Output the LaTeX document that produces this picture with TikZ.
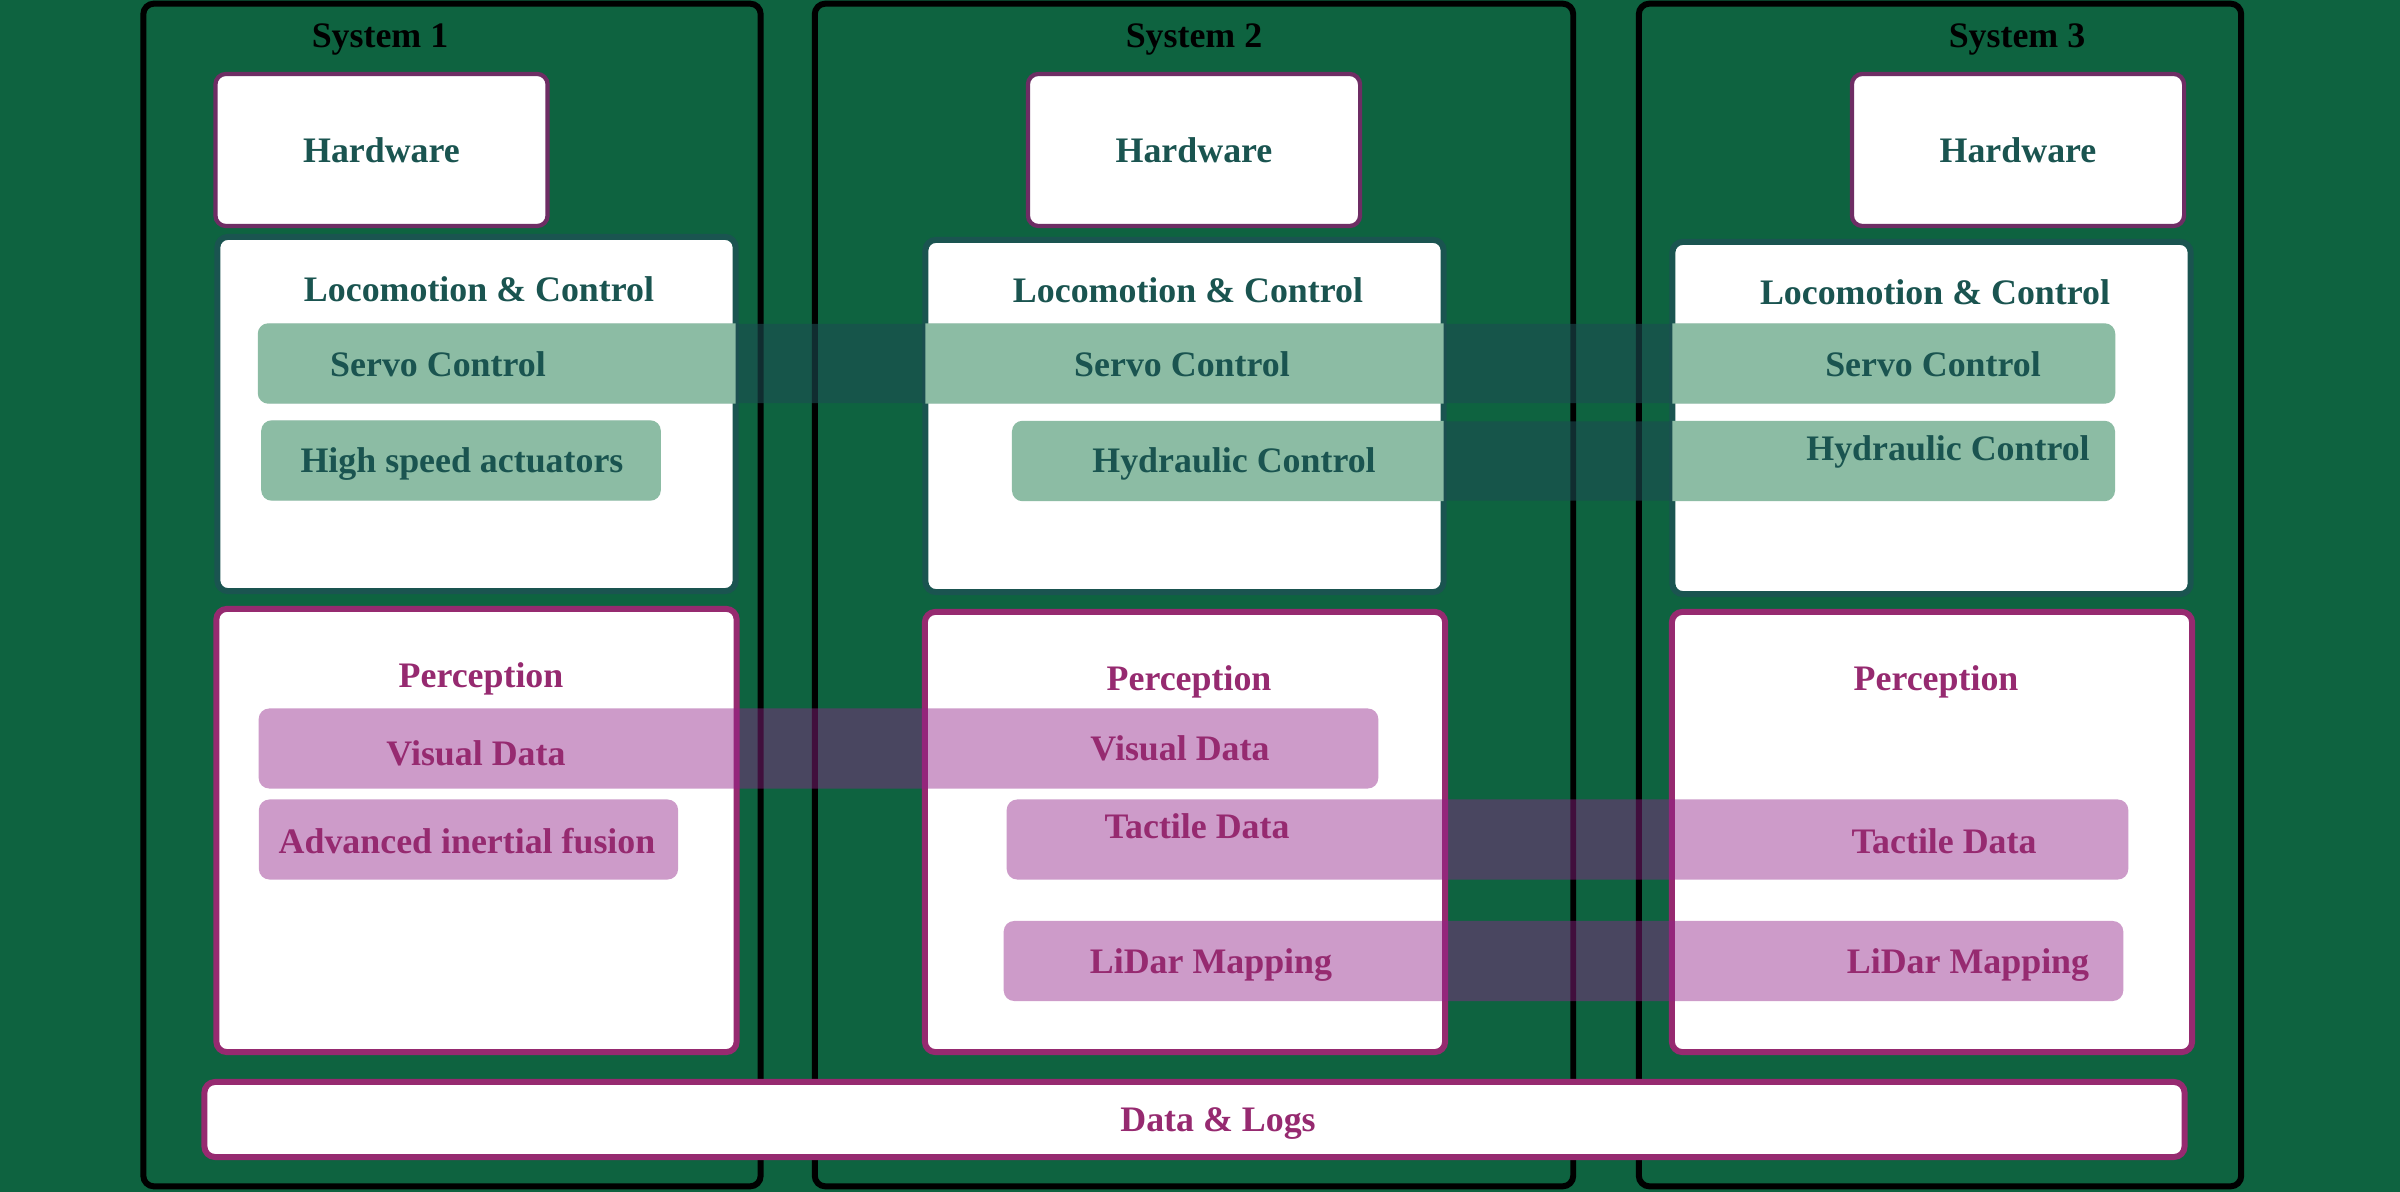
\documentclass[tikz,border=0pt]{standalone}
\usepackage{fontspec}
\setmainfont{Liberation Serif}

\definecolor{bggreen}{RGB}{14,99,64}
\definecolor{tealdark}{RGB}{26,84,80}
\definecolor{plum}{RGB}{150,42,112}
\definecolor{hwline}{RGB}{110,45,100}
\definecolor{servolight}{RGB}{140,188,164}
\definecolor{servodark}{RGB}{28,76,81}
\definecolor{sensepink}{RGB}{146,35,137}

\begin{document}
\begin{tikzpicture}[x=0.01cm,y=-0.01cm,
  every node/.style={font=\fontsize{10.2}{12}\selectfont\bfseries},
  sysframe/.style={draw=black,line width=1.7pt,rounded corners=3pt,inner sep=0pt,minimum height=11.82cm},
  hwbox/.style={fill=white,draw=hwline,line width=1.2pt,rounded corners=3pt,inner sep=0pt,minimum width=3.32cm,minimum height=1.52cm,text=tealdark},
  locobox/.style={fill=white,draw=tealdark,line width=1.7pt,rounded corners=3pt,inner sep=0pt,minimum width=5.18cm},
  percbox/.style={fill=white,draw=plum,line width=1.7pt,rounded corners=3pt,inner sep=0pt,minimum width=5.2cm},
  servoband/.style={fill=servodark,fill opacity=0.6,rounded corners=3pt,inner sep=0pt,minimum height=0.79cm},
  senseband/.style={fill=sensepink,fill opacity=0.45,rounded corners=3pt,inner sep=0pt,minimum height=0.8cm},
  lbl/.style={text=tealdark,anchor=base},
  plbl/.style={text=plum,anchor=base}]

% background
\fill[bggreen] (0,0) rectangle (2400,1192);
\useasboundingbox (0,0) rectangle (2400,1192);

% the three systems
\node[sysframe,minimum width=6.17cm] (sys1) at (452,595) {};
\node[sysframe,minimum width=7.58cm] (sys2) at (1194,595) {};
\node[sysframe,minimum width=6.02cm] (sys3) at (1940,595) {};
\node[anchor=base] (sys1t) at (380,48) {System 1};
\node[anchor=base] (sys2t) at (1194,48) {System 2};
\node[anchor=base] (sys3t) at (2017,48) {System 3};

% hardware
\node[hwbox] (hw1) at (381.5,150) {Hardware};
\node[hwbox] (hw2) at (1194,150) {Hardware};
\node[hwbox] (hw3) at (2018,150) {Hardware};

% locomotion & control
\node[locobox,minimum height=3.54cm] (loco1) at (476.5,414) {};
\node[locobox,minimum height=3.52cm] (loco2) at (1184.5,416) {};
\node[locobox,minimum height=3.52cm] (loco3) at (1931.5,418) {};
\node[lbl] (loco1t) at (479,302) {Locomotion \& Control};
\node[lbl] (loco2t) at (1188,303) {Locomotion \& Control};
\node[lbl] (loco3t) at (1935,305) {Locomotion \& Control};

% perception
\node[percbox,minimum height=4.43cm] (perc1) at (476.5,830.5) {};
\node[percbox,minimum height=4.4cm] (perc2) at (1185,832) {};
\node[percbox,minimum height=4.4cm] (perc3) at (1932,832) {};
\node[plbl] (perc1t) at (481,688) {Perception};
\node[plbl] (perc2t) at (1189,691) {Perception};
\node[plbl] (perc3t) at (1936,691) {Perception};

% data & logs
\node[percbox,minimum width=19.79cm,minimum height=0.75cm] (logs) at (1194.5,1119.5) {};
\node[plbl] (logst) at (1218,1131) {Data \& Logs};

% control bands: dark over the green, light inside the boxes
\node[servoband,minimum width=18.55cm] (servo) at (1186.5,363.5) {};
\node[servoband,minimum width=3.98cm] (hsa) at (461,460.5) {};
\node[servoband,minimum width=11.01cm] (hydr) at (1563.5,461) {};
\begin{scope}
  \clip ([shift={(3,3)}]loco1.north west) rectangle ([shift={(-3,-3)}]loco1.south east)
        ([shift={(3,3)}]loco2.north west) rectangle ([shift={(-3,-3)}]loco2.south east)
        ([shift={(3,3)}]loco3.north west) rectangle ([shift={(-3,-3)}]loco3.south east);
  \foreach \b in {servo,hsa,hydr}
    \fill[servolight,rounded corners=3pt] (\b.north west) rectangle (\b.south east);
\end{scope}
\node[lbl] (servo1) at (438,377) {Servo Control};
\node[lbl] (servo2) at (1182,377) {Servo Control};
\node[lbl] (servo3) at (1933,377) {Servo Control};
\node[lbl] (hsa1) at (462,473) {High speed actuators};
\node[lbl] (hydr2) at (1234,473) {Hydraulic Control};
\node[lbl] (hydr3) at (1948,461) {Hydraulic Control};

% sensing bands
\node[senseband,minimum width=11.19cm] (visual) at (818.5,748.5) {};
\node[senseband,minimum width=4.19cm] (aif) at (468.5,839.5) {};
\node[senseband,minimum width=11.21cm] (tactile) at (1567.5,839.5) {};
\node[senseband,minimum width=11.19cm] (lidar) at (1563.5,961) {};
\node[plbl] (visual1) at (476,766) {Visual Data};
\node[plbl] (visual2) at (1180,761) {Visual Data};
\node[plbl] (aif1) at (467,854) {Advanced inertial fusion};
\node[plbl] (tactile2) at (1197,839) {Tactile Data};
\node[plbl] (tactile3) at (1944,854) {Tactile Data};
\node[plbl] (lidar2) at (1211,974) {LiDar Mapping};
\node[plbl] (lidar3) at (1968,974) {LiDar Mapping};
\end{tikzpicture}
\end{document}
